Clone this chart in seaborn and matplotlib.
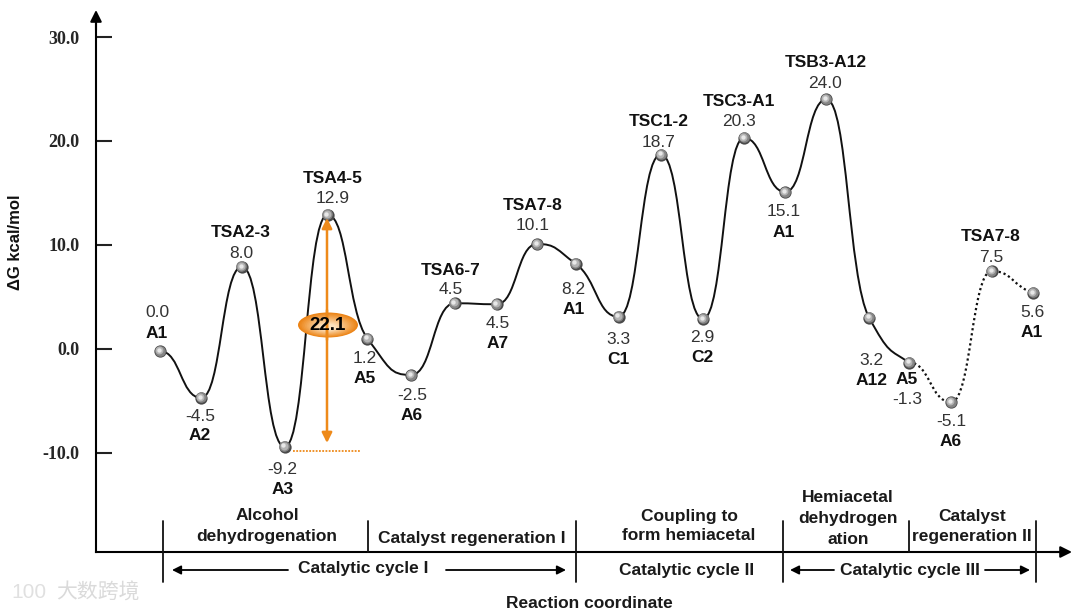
import numpy as np
import pandas as pd
import seaborn as sns
import matplotlib
matplotlib.use('Agg')
import matplotlib.pyplot as plt
from matplotlib.patches import Ellipse, PathPatch
from matplotlib.path import Path
from matplotlib.transforms import ScaledTranslation

# reaction coordinate, one unit is one step
coord = [0, 0.99, 1.97, 3.0, 4.03, 4.99, 6.04, 7.09, 8.1, 9.07, 10.0,
         11.03, 12.05, 13.06, 14.05, 15.04, 16.03, 17.06, 18.02, 19.03, 20.01, 21.0]
energy = [-0.2, -4.7, 7.9, -9.4, 12.9, 1.0, -2.5, 4.4, 4.3, 10.1, 8.2,
          3.1, 18.7, 2.9, 20.3, 15.1, 24.0, 3.0, -1.3, -5.1, 7.5, 5.4]
value_labels = ['0.0', '-4.5', '8.0', '-9.2', '12.9', '1.2', '-2.5', '4.5', '4.5', '10.1', '8.2',
                '3.3', '18.7', '2.9', '20.3', '15.1', '24.0', '3.2', '-1.3', '-5.1', '7.5', '5.6']
names = ['A1', 'A2', 'TSA2-3', 'A3', 'TSA4-5', 'A5', 'A6', 'TSA6-7', 'A7', 'TSA7-8', 'A1',
         'C1', 'TSC1-2', 'C2', 'TSC3-A1', 'A1', 'TSB3-A12', 'A12', 'A5', 'A6', 'TSA7-8', 'A1']
yticks = [30, 20, 10, 0, -10]
n_solid = 19  # the last three segments are dotted

# label offsets from the mark in pixels: dx, value dy, name dy
offsets = [(-3, 39, 18), (-1, -19, -38), (-1, 13, 34), (-2, -23, -43), (5, 16, 36), (-3, -20, -40),
           (1, -21, -41), (-4, 14, 33), (1, -19, -39), (-4, 18, 38), (-2, -26, -46), (0, -23, -43),
           (-2, 12, 33), (-1, -19, -39), (-5, 16, 36), (-2, -20, -41), (-1, 16, 37), (2, -43, -63),
           (-2, -37, -17), (0, -19, -39), (-1, 13, 34), (-1, -20, -40)]

sns.set_theme(style='white')
plt.rcParams['font.family'] = ['Liberation Sans', 'DejaVu Sans']

df = pd.DataFrame({'coord': coord, 'energy': energy})

fig = plt.figure(figsize=(10.8, 6.13), dpi=100)
# pixel box of the axes: x 96-1065, y 15-552, 0 kcal/mol sits at y=349
ax = fig.add_axes([96 / 1080, 1 - 552 / 613, (1065 - 96) / 1080, (552 - 15) / 613])
ax.set_xlim((96 - 160) / 41.57, (1065 - 160) / 41.57)
ax.set_ylim((349 - 552) / 10.4, (349 - 15) / 10.4)
ax.patch.set_alpha(0)
for side in ['top', 'right']:
    ax.spines[side].set_visible(False)
for side in ['left', 'bottom']:
    ax.spines[side].set_linewidth(1.5)
    ax.spines[side].set_color('black')
ax.set_xticks([])
ax.set_yticks(yticks)
ax.set_yticklabels(['%.1f' % t for t in yticks], family='Liberation Serif', fontweight='bold', fontsize=13)
ax.tick_params(axis='y', direction='in', length=11.5, width=1.5, color='#222222', pad=12, left=True)


def curve_path(x, y):
    # smooth path through the points, flat at every turning point
    x = np.array(x, dtype=float)
    y = np.array(y, dtype=float)
    dx = np.diff(x)
    s = np.diff(y) / dx
    t = np.zeros(len(x))
    for i in range(1, len(x) - 1):
        if s[i - 1] * s[i] > 0:
            t[i] = 2 * s[i - 1] * s[i] / (s[i - 1] + s[i])
    t[-1] = s[-1] * 0.6
    h = 0.5
    verts = [(x[0], y[0])]
    codes = [Path.MOVETO]
    for i in range(len(x) - 1):
        verts += [(x[i] + h * dx[i], y[i] + h * dx[i] * t[i]),
                  (x[i + 1] - h * dx[i], y[i + 1] - h * dx[i] * t[i + 1]),
                  (x[i + 1], y[i + 1])]
        codes += [Path.CURVE4] * 3
    return Path(verts, codes)


ax.add_patch(PathPatch(curve_path(coord[:n_solid], energy[:n_solid]), fc='none', ec='#111111', lw=1.4, zorder=2))
ax.add_patch(PathPatch(curve_path(coord[n_solid - 1:], energy[n_solid - 1:]), fc='none', ec='#111111', lw=1.6,
                       ls=(0, (1, 1.3)), zorder=2))

# shaded balls, the lighter layers sit a little up and left
for size, colour, shift in [(78, '#4a4a4a', 0), (58, '#858585', 0.4), (32, '#b4b4b4', 0.9), (10, '#e8e8e8', 1.3)]:
    tr = ax.transData + ScaledTranslation(-shift / 100, shift / 100, fig.dpi_scale_trans)
    sns.scatterplot(data=df, x='coord', y='energy', s=size, color=colour, linewidth=0, ax=ax, zorder=3,
                    legend=False, transform=tr)
ax.set_xlabel('')
ax.set_ylabel('')

for i in range(len(coord)):
    dx, dv, dn = offsets[i]
    ax.annotate(value_labels[i], (coord[i], energy[i]), xytext=(dx, dv), textcoords='offset pixels',
                ha='center', va='center', fontsize=12.5, color='#333333', annotation_clip=False)
    ax.annotate(names[i], (coord[i], energy[i]), xytext=(dx, dn), textcoords='offset pixels',
                ha='center', va='center', fontsize=12.5, fontweight='bold', color='#111111', annotation_clip=False)

# overlay in pixel coordinates for the frame furniture
ov = fig.add_axes([0, 0, 1, 1])
ov.set_xlim(0, 1080)
ov.set_ylim(613, 0)
ov.axis('off')


def arrow(a, b, colour='black', lw=1.3, style='-|>', scale=13):
    ov.annotate('', xy=b, xytext=a, arrowprops=dict(arrowstyle=style, color=colour, lw=lw, mutation_scale=scale,
                                                   shrinkA=0, shrinkB=0))


# axis arrow heads
arrow((96, 30), (96, 10), lw=1.5, scale=17)
arrow((1050, 552), (1072, 552), lw=1.5, scale=17)

# cycle and section brackets
for x, y2 in [(163, 582), (368, 552), (576, 582), (783, 582), (909, 552), (1036, 582)]:
    ov.plot([x, x], [521, y2], color='#111111', lw=1.3)
for a, b in [((288, 570), (172, 570)), ((446, 570), (566, 570)), ((834, 570), (790, 570)), ((985, 570), (1030, 570))]:
    arrow(a, b)

sections = [('Alcohol', 267, 515), ('dehydrogenation', 267, 536), ('Catalyst regeneration I', 472, 538),
            ('Coupling to', 689, 516), ('form hemiacetal', 689, 536), ('Hemiacetal', 848, 498),
            ('dehydrogen', 848, 518), ('ation', 848, 539), ('Catalyst', 972, 517), ('regeneration II', 972, 537),
            ('Catalytic cycle I', 363, 569), ('Catalytic cycle II', 687, 570), ('Catalytic cycle III', 910, 570),
            ('Reaction coordinate', 589, 603)]
for label, x, y in sections:
    ov.text(x, y, label, ha='center', va='center', fontsize=12.5, fontweight='bold', color='#1a1a1a')
ov.text(16, 242, '\u0394G kcal/mol', rotation=90, ha='center', va='center', fontsize=12, fontweight='bold', color='#111111')

# barrier marker
arrow((327, 340), (327, 218), colour='#ee8a1a', lw=1.8, scale=15)
arrow((327, 310), (327, 443), colour='#ee8a1a', lw=1.8, scale=15)
ov.plot([293, 360], [451, 451], color='#ee8a1a', lw=1.3, ls=(0, (1, 0.8)))
c0 = np.array(matplotlib.colors.to_rgb('#ec8416'))
c1 = np.array(matplotlib.colors.to_rgb('#fde3c0'))
for f in np.linspace(0, 1, 14):
    ov.add_patch(Ellipse((328, 325 + 2 * f), 60 * (1 - 0.75 * f), 25 * (1 - 0.75 * f), fc=c0 + (c1 - c0) * f, ec='none'))
ov.text(328, 325, '22.1', ha='center', va='center', fontsize=13.5, fontweight='bold', color='black')

# faint watermark
ov.text(98, 593, '大数跨境', ha='center', va='center', fontsize=15, color='#dadada', family=['Noto Sans CJK SC', 'DejaVu Sans'])
ov.text(29, 592, '100', ha='center', va='center', fontsize=15, color='#e0e0e0')

fig.savefig('out.png', dpi=100)
